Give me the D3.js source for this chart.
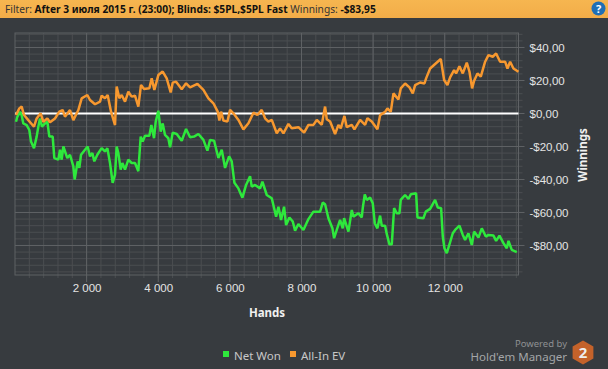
<!DOCTYPE html>
<html lang="en">
<head>
    <meta charset="UTF-8">
    <title>Winnings by hands</title>
    <script src="https://d3js.org/d3.v7.min.js"></script>
    <style>
        html, body { margin: 0; padding: 0; background: #373b3f; overflow: hidden; }
        svg { display: block; font-family: "Noto Sans", "Open Sans", sans-serif; }
        .tick-label { fill: #e4e4e4; font-size: 11.5px; }
        .axis-title { fill: #f0f0f0; font-size: 11.5px; font-weight: bold; }
        .axis path { display: none; }
    </style>
</head>
<body>
<svg id="chart" width="608" height="369"></svg>

<script>
    // values: hands, dollars
    const netWonHands = [28,65,140,186,232,326,400,447,530,605,651,698,754,838,903,959,1052,1098,1210,1257,1303,1350,1461,1536,1629,1666,1750,1797,1843,1955,2029,2094,2160,2215,2299,2420,2513,2579,2653,2727,2793,2839,2886,2951,2998,3072,3165,3258,3351,3444,3510,3565,3631,3752,3808,3882,3929,4003,4068,4124,4189,4282,4330,4404,4516,4656,4777,4889,5000,5121,5261,5373,5447,5559,5680,5773,5866,5978,6052,6127,6239,6350,6453,6564,6611,6704,6844,6909,7030,7170,7291,7356,7430,7514,7570,7663,7756,7821,7914,8054,8194,8333,8520,8594,8659,8752,8864,8910,8985,9078,9152,9190,9311,9404,9450,9590,9683,9711,9767,9823,9916,9990,10046,10120,10195,10242,10335,10381,10456,10521,10586,10661,10735,10772,10893,10987,11052,11201,11238,11405,11470,11592,11731,11806,11899,11946,11992,12057,12132,12225,12290,12411,12504,12569,12662,12755,12820,12942,13035,13147,13221,13361,13435,13528,13640,13733,13780,13873,14012];
    const netWonValues = [-5,-2,1,-1,-6,-7,-10,-17,-21,-14,-8,-3,-8,-6,-5,-14,-14,-27,-28,-22,-28,-20,-27,-25,-32,-40,-29,-33,-25,-22,-20,-26,-24,-29,-25,-21,-23,-21,-30,-42,-37,-20,-24,-34,-30,-34,-28,-30,-30,-35,-14,-17,-13.5,-13.5,-7,-15,-5,1.7,-11,-6,-13,-15,-20.5,-11.6,-12.4,-16.5,-9.4,-14.4,-14,-12.4,-16,-22.5,-16,-16.5,-27,-22,-33,-26,-29,-42,-45.4,-51,-43.3,-38,-44.3,-43.3,-45.4,-41.3,-49.4,-51.4,-62.5,-56.5,-64.5,-56.5,-67.6,-63,-65.5,-71,-67,-70.6,-64,-59.5,-59.5,-54,-55,-63.5,-69.6,-75.6,-70.6,-64.5,-69.6,-63.5,-71.6,-58.5,-62.5,-60.5,-63,-57.4,-49,-52.4,-51,-54.4,-66.5,-69.6,-61.9,-68,-68,-73,-79.3,-79.3,-57.4,-60.5,-60.5,-52.4,-49.4,-51.8,-49,-48.4,-63,-63.5,-59.5,-57.8,-52.4,-57,-57.4,-74.6,-81.7,-84.7,-79.3,-72.6,-70.6,-68,-73.6,-76.6,-72.6,-79.7,-71.6,-75.2,-69.6,-74.6,-73.6,-74,-77.2,-74,-78.6,-81.7,-77.2,-82.7,-84];

    const allInHands = [28,121,186,251,372,530,605,716,791,903,977,1117,1238,1331,1396,1536,1629,1769,1862,2020,2094,2234,2374,2420,2513,2588,2681,2793,2839,2914,2979,3072,3165,3258,3351,3444,3519,3603,3752,3817,3891,4003,4124,4236,4347,4404,4498,4656,4777,4889,5093,5261,5401,5540,5661,5708,5754,5820,5932,6006,6099,6239,6378,6518,6658,6769,6890,6983,7076,7170,7309,7402,7495,7635,7728,7914,8073,8194,8333,8427,8566,8659,8706,8799,8938,9031,9097,9199,9264,9404,9478,9637,9776,9841,9962,10121,10195,10335,10400,10493,10568,10707,10772,10894,11015,11108,11173,11313,11434,11480,11592,11732,11890,11983,12076,12150,12262,12318,12411,12504,12616,12691,12765,12821,12914,13007,13128,13221,13342,13435,13547,13686,13752,13826,13919,14059];
    const allInValues = [-0.9,3.1,4.2,-0.9,-4,-8,-3,0.1,-5,-3,-5.3,-3,1.1,2.1,-1.9,2.1,-4,2.1,9.2,11.2,8.2,5.6,7.2,10.8,9.2,11.2,1.1,-7,16.3,9.2,11.2,7.2,13.2,10.2,10.8,4.2,17.3,14.9,15.3,21.3,14.3,23.3,25.4,21.3,12.8,18.7,19.3,14.7,18.3,15.9,17.9,14.3,9.2,6.2,1.1,-4.3,1.1,-4.3,-4.9,2.2,0.1,-3.9,-9.6,-5.9,0.5,-0.9,2.2,-2.9,-4.9,-3.9,-12,-9,-12,-6.3,-9,-8.3,-11.6,-6.9,-6.9,-3.9,-6.9,4.2,-3.5,-4.9,-12.4,-6.9,-9,-1.5,-8.3,-6.9,-9.6,-3.9,-6.9,-2.9,-4.9,-9.6,-1,1,3.1,1,12.2,8.5,15.2,18.2,15.8,12.2,17.2,18.8,18.2,21.3,27.3,30,33,20.3,17.2,21.9,26.3,24.3,28.7,24.3,30.8,25.3,15.2,19.9,24.3,22.3,31.4,35.4,34.4,36.4,31.4,31.4,27.3,31.4,27.3,25.3];

    const handTicks = [2000, 4000, 6000, 8000, 10000, 12000];
    const moneyTicks = [40, 20, 0, -20, -40, -60, -80];
    const legendNames = ["Net Won", "All-In EV"];

    const svg = d3.select("#chart");
    const plot = { left: 15, right: 518.5, top: 33, bottom: 275 };

    const x = d3.scaleLinear().domain([0, 14060]).range([plot.left, plot.right]);
    const y = d3.scaleLinear().domain([48.8, -97.9]).range([plot.top, plot.bottom]);

    // header strip
    const header = svg.append("defs").append("linearGradient")
        .attr("id", "headerFill").attr("x1", 0).attr("x2", 0).attr("y1", 0).attr("y2", 1);
    header.append("stop").attr("offset", "0%").attr("stop-color", "#f6b650");
    header.append("stop").attr("offset", "100%").attr("stop-color", "#f2ac48");
    svg.append("rect").attr("width", 608).attr("height", 18).attr("fill", "url(#headerFill)");

    const title = svg.append("text").attr("x", 5).attr("y", 13)
        .attr("font-size", 10.2).attr("fill", "#222");
    title.append("tspan").attr("fill", "#333").text("Filter: ");
    title.append("tspan").attr("font-weight", "bold").attr("fill", "#111")
        .text("After 3 июля 2015 г. (23:00); Blinds: $5PL,$5PL Fast");
    title.append("tspan").attr("fill", "#333").text("  Winnings: ");
    title.append("tspan").attr("font-weight", "bold").attr("fill", "#111").text("-$83,95");

    // help icon
    svg.append("circle").attr("cx", 598.5).attr("cy", 8.5).attr("r", 7).attr("fill", "#1f6fb5");
    svg.append("text").attr("x", 598.5).attr("y", 12.5).attr("text-anchor", "middle")
        .attr("font-size", 11).attr("font-weight", "bold").attr("fill", "#fff").text("?");

    // minor grid, with little ticks past the frame
    const minorHands = d3.range(400, 14060, 400);
    const minorMoney = d3.range(48, -98, -4);

    svg.append("g").selectAll("line").data(minorHands).enter().append("line")
        .attr("x1", d => x(d)).attr("x2", d => x(d))
        .attr("y1", plot.top).attr("y2", plot.bottom + 3)
        .attr("stroke", "#4b4e51");
    svg.append("g").selectAll("line").data(minorMoney).enter().append("line")
        .attr("x1", plot.left).attr("x2", plot.right + 4)
        .attr("y1", d => y(d)).attr("y2", d => y(d))
        .attr("stroke", "#4b4e51");

    // major grid
    svg.append("g").selectAll("line").data(handTicks).enter().append("line")
        .attr("x1", d => x(d)).attr("x2", d => x(d))
        .attr("y1", plot.top).attr("y2", plot.bottom + 7)
        .attr("stroke", "#5f6265");
    svg.append("g").selectAll("line").data(moneyTicks).enter().append("line")
        .attr("x1", plot.left).attr("x2", plot.right + 6)
        .attr("y1", d => y(d)).attr("y2", d => y(d))
        .attr("stroke", "#5f6265");

    svg.append("rect")
        .attr("x", plot.left).attr("y", plot.top)
        .attr("width", plot.right - plot.left).attr("height", plot.bottom - plot.top)
        .attr("fill", "none").attr("stroke", "#5f6265");

    // axes
    const xAxis = d3.axisBottom(x).tickValues(handTicks).tickSize(0).tickPadding(0)
        .tickFormat(d => d3.format(",")(d).replace(",", " "));
    const xg = svg.append("g").attr("class", "axis")
        .attr("transform", `translate(0,${plot.bottom + 9})`).call(xAxis);
    xg.selectAll("text").attr("class", "tick-label").attr("dy", "0.71em");

    const yAxis = d3.axisRight(y).tickValues(moneyTicks).tickSize(0).tickPadding(0)
        .tickFormat(d => (d < 0 ? "-" : "") + "$" + Math.abs(d) + ",00");
    const yg = svg.append("g").attr("class", "axis")
        .attr("transform", `translate(${plot.right + 11},0)`).call(yAxis);
    yg.selectAll("text").attr("class", "tick-label");

    svg.append("text").attr("class", "axis-title").attr("x", 267).attr("y", 317)
        .attr("text-anchor", "middle").text("Hands");
    svg.append("text").attr("class", "axis-title")
        .attr("transform", "translate(587,155) rotate(-90)")
        .attr("text-anchor", "middle").text("Winnings");

    // lines
    const line = d3.line().x(d => x(d[0])).y(d => y(d[1]));

    svg.append("line")
        .attr("x1", x(0)).attr("x2", plot.right)
        .attr("y1", y(0)).attr("y2", y(0))
        .attr("stroke", "#fff").attr("stroke-width", 2);

    svg.append("path").datum(d3.zip(netWonHands, netWonValues))
        .attr("d", line).attr("fill", "none")
        .attr("stroke", "#2ee83c").attr("stroke-width", 2.5).attr("stroke-linejoin", "bevel");
    svg.append("path").datum(d3.zip(allInHands, allInValues))
        .attr("d", line).attr("fill", "none")
        .attr("stroke", "#f7982f").attr("stroke-width", 2.5).attr("stroke-linejoin", "bevel");

    // legend
    const legendColors = ["#2ee83c", "#f7982f"];
    const legendX = [223, 290];
    legendNames.forEach((name, i) => {
        svg.append("rect").attr("x", legendX[i]).attr("y", 351)
            .attr("width", 6).attr("height", 6).attr("fill", legendColors[i]);
        svg.append("text").attr("x", legendX[i] + 11).attr("y", 360)
            .attr("font-size", 11.5).attr("fill", "#c8c8c8").text(name);
    });

    // powered by block
    svg.append("text").attr("x", 567).attr("y", 347).attr("text-anchor", "end")
        .attr("font-size", 9.5).attr("fill", "#8e9092").text("Powered by");
    svg.append("text").attr("x", 567).attr("y", 361).attr("text-anchor", "end")
        .attr("font-size", 11.5).attr("fill", "#a4a6a8").text("Hold'em Manager");
    const hex = d3.range(6).map(i => {
        const a = Math.PI / 3 * i - Math.PI / 2;
        return [583 + 12 * Math.cos(a), 352.5 + 12 * Math.sin(a)];
    });
    svg.append("polygon").attr("points", hex.join(" ")).attr("fill", "#c4622a");
    svg.append("text").attr("x", 583).attr("y", 358).attr("text-anchor", "middle")
        .attr("font-size", 15).attr("font-weight", "bold").attr("fill", "#eee").text("2");
</script>
</body>
</html>
